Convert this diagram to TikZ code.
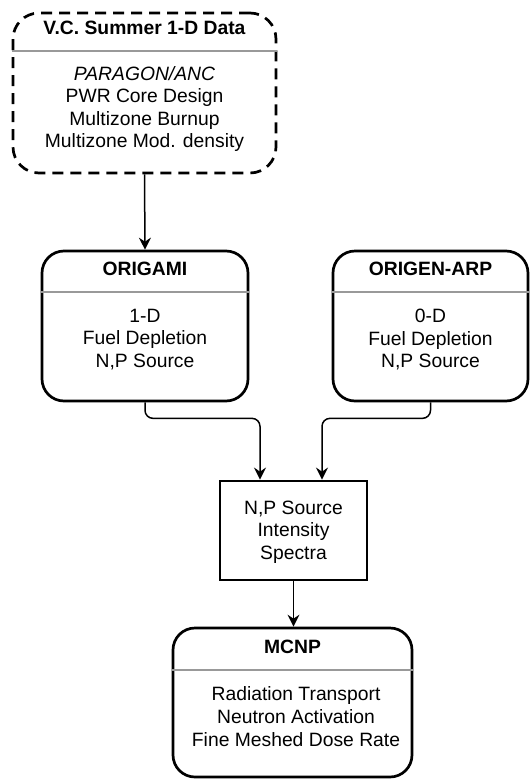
\documentclass[tikz,border=0pt]{standalone}
\usepackage{fontspec}
\setmainfont{Liberation Sans}
\usetikzlibrary{arrows.meta,calc}
\begin{document}
\begin{tikzpicture}[x=1pt,y=-1pt,
  box/.style={draw, line width=2.7pt, rounded corners=22pt, inner sep=0pt},
  sqbox/.style={draw, line width=2.8pt, inner sep=0pt},
  dashbox/.style={box, rounded corners=26pt, dash pattern=on 11pt off 7pt},
  divider/.style={draw=black!40, line width=1.8pt},
  ttl/.style={font=\bfseries\fontsize{19.3}{22.7}\selectfont, inner sep=0pt},
  body/.style={font=\fontsize{19.3}{22.6}\selectfont, align=center, inner sep=0pt},
  conn/.style={line width=1.5pt, -{Stealth[length=12pt,width=12pt,inset=4pt]}},
]
\useasboundingbox (0,0) rectangle (530,780);

% top dashed box
\node[dashbox, minimum width=263pt, minimum height=160pt] (vc) at (144.5,93) {};
\node[ttl] (vct) at (144.5,28) {V.C. Summer 1-D Data};
\draw[divider] (vc.west |- 0,51) coordinate (vcdl) -- (vc.east |- 0,51) coordinate (vcdr);
\node[body] (vcb) at (144.5,109) {\itshape PARAGON/ANC\\PWR Core Design\\Multizone Burnup\\Multizone Mod. density};

% ORIGAMI
\node[box, minimum width=206pt, minimum height=150pt] (origami) at (145,326) {};
\node[ttl] (origamit) at (145,269) {ORIGAMI};
\draw[divider] (origami.west |- 0,292) coordinate (odl) -- (origami.east |- 0,292) coordinate (odr);
\node[body] (origamib) at (145,339.5) {1-D\\Fuel Depletion\\N,P Source};

% ORIGEN-ARP
\node[box, minimum width=195pt, minimum height=150pt] (origen) at (430.5,326) {};
\node[ttl] (origent) at (430.5,269) {ORIGEN-ARP};
\draw[divider] (origen.west |- 0,292) coordinate (gdl) -- (origen.east |- 0,292) coordinate (gdr);
\node[body] (origenb) at (430.5,339.5) {0-D\\Fuel Depletion\\N,P Source};

% N,P source box
\node[sqbox, minimum width=147pt, minimum height=99pt] (np) at (293.5,530.5) {};
\node[body] (npb) at (293.5,532) {N,P Source\\Intensity\\Spectra};

% MCNP
\node[box, minimum width=239pt, minimum height=149pt] (mcnp) at (292.5,702.5) {};
\node[ttl] (mcnpt) at (292.5,647) {MCNP};
\draw[divider] (mcnp.west |- 0,670) coordinate (mdl) -- (mcnp.east |- 0,670) coordinate (mdr);
\node[body] (mcnpb) at (296,716.5) {Radiation Transport\\Neutron Activation\\Fine Meshed Dose Rate};

% connectors
\draw[conn] (vc.south) -- (origami.north);
\draw[conn, rounded corners=8pt] (origami.south) -- ++(0,16) -| ($(np.north)+(-33.5,0)$);
\draw[conn, rounded corners=8pt] (origen.south) -- ++(0,16) -| ($(np.north)+(28.5,0)$);
\draw[conn] (np.south) -- (np.south |- mcnp.north);
\end{tikzpicture}
\end{document}
